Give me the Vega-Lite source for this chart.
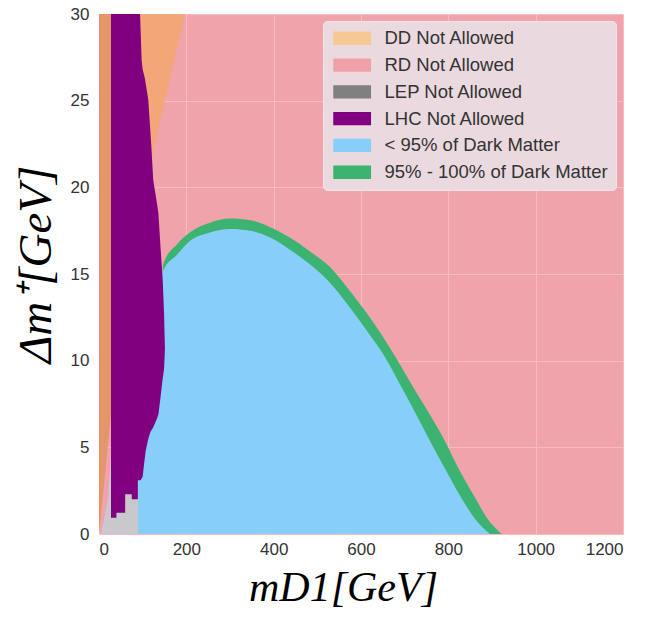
{
  "$schema": "https://vega.github.io/schema/vega-lite/v6.json",
  "width": 524,
  "height": 520,
  "autosize": "none",
  "padding": {"left": 99, "top": 14, "right": 24, "bottom": 90},
  "background": "white",
  "datasets": {
    "dd": [
      {"m": 0, "lo": 8.6, "hi": 30},
      {"m": 197, "lo": 30, "hi": 30}
    ],
    "ddstrip": [
      {"m": 0, "lo": 0, "hi": 30},
      {"m": 27.5, "lo": 6.9, "hi": 30}
    ],
    "green": [
      {"m": 146, "hi": 15.3},
      {"m": 147, "hi": 15.56},
      {"m": 178, "hi": 16.7},
      {"m": 208, "hi": 17.4},
      {"m": 254, "hi": 17.96},
      {"m": 300, "hi": 18.2},
      {"m": 346, "hi": 18.1},
      {"m": 392, "hi": 17.7},
      {"m": 437, "hi": 17.1},
      {"m": 483, "hi": 16.3},
      {"m": 529, "hi": 15.4},
      {"m": 575, "hi": 14.0},
      {"m": 620, "hi": 12.5},
      {"m": 666, "hi": 10.75},
      {"m": 719, "hi": 8.5},
      {"m": 792, "hi": 5.37},
      {"m": 827, "hi": 3.6},
      {"m": 861, "hi": 2.1},
      {"m": 888, "hi": 0.94},
      {"m": 922, "hi": 0}
    ],
    "blue": [
      {"m": 89, "hi": 14.9},
      {"m": 146, "hi": 15.1},
      {"m": 147, "hi": 15.2},
      {"m": 178, "hi": 16.1},
      {"m": 208, "hi": 16.9},
      {"m": 254, "hi": 17.4},
      {"m": 300, "hi": 17.6},
      {"m": 346, "hi": 17.5},
      {"m": 392, "hi": 17.1},
      {"m": 437, "hi": 16.4},
      {"m": 483, "hi": 15.56},
      {"m": 529, "hi": 14.5},
      {"m": 575, "hi": 13.06},
      {"m": 620, "hi": 11.5},
      {"m": 651, "hi": 10.37},
      {"m": 690, "hi": 8.6},
      {"m": 720, "hi": 7.2},
      {"m": 758, "hi": 5.37},
      {"m": 796, "hi": 3.6},
      {"m": 834, "hi": 1.9},
      {"m": 865, "hi": 0.75},
      {"m": 895, "hi": 0}
    ],
    "lep": [
      {"m": 5, "lo": 0, "hi": 0},
      {"m": 21, "lo": 0, "hi": 2.1},
      {"m": 26, "lo": 0, "hi": 4},
      {"m": 27.5, "lo": 0, "hi": 5},
      {"m": 27.6, "lo": 0, "hi": 3.1},
      {"m": 89.5, "lo": 0, "hi": 3.1}
    ],
    "lhc": [
      {"m": 27.5, "lo": 0.94, "hi": 30},
      {"m": 39.9, "lo": 0.94, "hi": 30},
      {"m": 40, "lo": 1.23, "hi": 30},
      {"m": 59.9, "lo": 1.23, "hi": 30},
      {"m": 60, "lo": 2.3, "hi": 30},
      {"m": 74.9, "lo": 2.3, "hi": 30},
      {"m": 75, "lo": 2.0, "hi": 30},
      {"m": 88.9, "lo": 2.0, "hi": 30},
      {"m": 89, "lo": 3.1, "hi": 30},
      {"m": 94, "lo": 3.1, "hi": 30},
      {"m": 95, "lo": 3.1, "hi": 29.3},
      {"m": 97.7, "lo": 3.2, "hi": 27.3},
      {"m": 100, "lo": 3.3, "hi": 26.8},
      {"m": 103, "lo": 4.0, "hi": 26.5},
      {"m": 105, "lo": 4.4, "hi": 26.3},
      {"m": 107, "lo": 4.8, "hi": 25.97},
      {"m": 112, "lo": 5.4, "hi": 25.2},
      {"m": 113, "lo": 5.5, "hi": 25.0},
      {"m": 118, "lo": 5.9, "hi": 23.1},
      {"m": 120.5, "lo": 6.0, "hi": 22.1},
      {"m": 124, "lo": 6.15, "hi": 20.5},
      {"m": 125, "lo": 6.2, "hi": 20.3},
      {"m": 132, "lo": 6.6, "hi": 19.2},
      {"m": 136, "lo": 6.9, "hi": 18.5},
      {"m": 140, "lo": 7.7, "hi": 16.9},
      {"m": 141, "lo": 7.9, "hi": 16.5},
      {"m": 145, "lo": 8.8, "hi": 15.0},
      {"m": 146, "lo": 9.0, "hi": 14.6},
      {"m": 149, "lo": 9.5, "hi": 12.7},
      {"m": 151, "lo": 10.7, "hi": 10.7}
    ]
  },
  "layer": [
    {
      "data": {"name": "dd"},
      "mark": {"type": "area", "orient": "vertical", "fill": "#F3A678", "interpolate": "linear"},
      "encoding": {
        "x": {"field": "m", "type": "quantitative", "scale": {"domain": [0, 1200], "nice": false, "zero": false},
          "axis": {"values": [0, 200, 400, 600, 800, 1000, 1200], "format": "d", "labelPadding": 7, "title": "mD1[GeV]", "titlePadding": 10, "titleX": 244}},
        "y": {"field": "lo", "type": "quantitative", "scale": {"domain": [0, 30], "nice": false, "zero": false},
          "axis": {"values": [0, 5, 10, 15, 20, 25, 30], "format": "d", "labelPadding": 10, "title": "Δm⁺[GeV]", "titleFontSize": 47, "titlePadding": 10, "titleY": 250}},
        "y2": {"field": "hi"}
      }
    },
    {
      "data": {"name": "ddstrip"},
      "mark": {"type": "area", "orient": "vertical", "fill": "#E4966A", "interpolate": "linear"},
      "encoding": {
        "x": {"field": "m", "type": "quantitative"},
        "y": {"field": "lo", "type": "quantitative"},
        "y2": {"field": "hi"}
      }
    },
    {
      "data": {"name": "green"},
      "mark": {"type": "area", "orient": "vertical", "interpolate": "monotone", "opacity": 1},
      "encoding": {
        "x": {"field": "m", "type": "quantitative"},
        "y": {"field": "hi", "type": "quantitative"},
        "y2": {"datum": 0},
        "color": {"datum": "95% - 100% of Dark Matter", "type": "nominal",
          "scale": {"domain": ["DD Not Allowed", "RD Not Allowed", "LEP Not Allowed", "LHC Not Allowed", "< 95% of Dark Matter", "95% - 100% of Dark Matter"],
                    "range": ["#F6C893", "#F0A0A8", "#808080", "#800080", "#87CEFA", "#3CB371"]},
          "legend": {"orient": "none", "legendX": 224, "legendY": 7, "title": null}}
      }
    },
    {
      "data": {"name": "blue"},
      "mark": {"type": "area", "orient": "vertical", "interpolate": "monotone", "opacity": 1},
      "encoding": {
        "x": {"field": "m", "type": "quantitative"},
        "y": {"field": "hi", "type": "quantitative"},
        "y2": {"datum": 0},
        "color": {"datum": "< 95% of Dark Matter", "type": "nominal",
          "legend": {"orient": "none", "legendX": 224, "legendY": 7, "title": null}}
      }
    },
    {
      "data": {"name": "lep"},
      "mark": {"type": "area", "orient": "vertical", "fill": "#C9C9CD", "interpolate": "linear"},
      "encoding": {
        "x": {"field": "m", "type": "quantitative"},
        "y": {"field": "lo", "type": "quantitative"},
        "y2": {"field": "hi"}
      }
    },
    {
      "data": {"name": "lhc"},
      "mark": {"type": "area", "orient": "vertical", "interpolate": "linear", "opacity": 1},
      "encoding": {
        "x": {"field": "m", "type": "quantitative"},
        "y": {"field": "lo", "type": "quantitative"},
        "y2": {"field": "hi"},
        "color": {"datum": "LHC Not Allowed", "type": "nominal",
          "legend": {"orient": "none", "legendX": 224, "legendY": 7, "title": null}}
      }
    }
  ],
  "resolve": {"scale": {"color": "shared"}},
  "config": {
    "view": {"fill": "#F0A3AA", "stroke": null},
    "axis": {
      "grid": true, "gridColor": "#F6BCC1", "gridWidth": 1, "domain": false, "ticks": false,
      "labelFont": "Liberation Sans", "labelFontSize": 17, "labelColor": "#333333",
      "titleFont": "Liberation Serif", "titleFontStyle": "italic", "titleFontWeight": "normal",
      "titleFontSize": 42, "titleColor": "#000000"
    },
    "legend": {
      "padding": 8, "fillColor": "#EAD9DE", "strokeColor": "#F3E6EA", "cornerRadius": 4,
      "symbolType": "M-1,-0.95H4.4V0.95H-1Z", "symbolSize": 196, "symbolStrokeWidth": 0, "symbolOpacity": 1,
      "labelFont": "Liberation Sans", "labelFontSize": 18.5, "labelColor": "#333333", "labelOffset": 35,
      "rowPadding": 7.8, "labelLimit": 400
    }
  }
}
